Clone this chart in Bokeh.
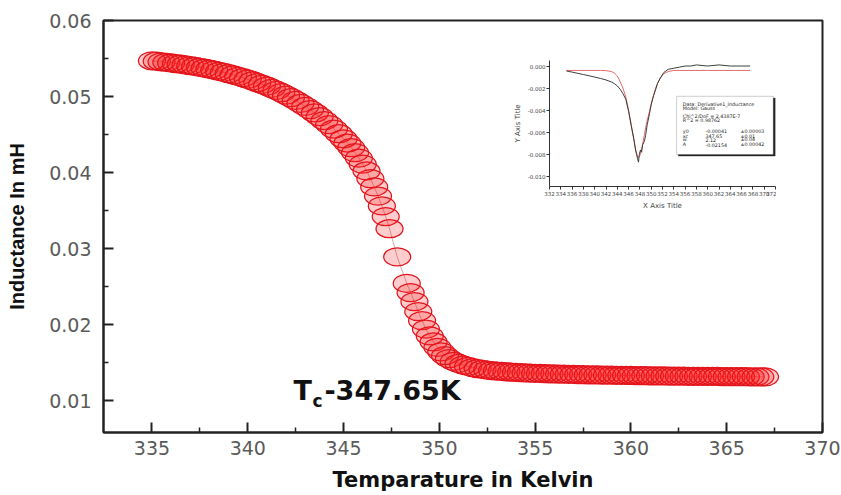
from bokeh.plotting import figure
from bokeh.models import Range1d, FixedTicker, PrintfTickFormatter, Label, BoxAnnotation
from bokeh.embed import file_html
from bokeh.resources import INLINE

# ---------------- main data ----------------
temperature_K = [
    335.00, 335.25, 335.50, 335.75, 336.00, 336.25, 336.50, 336.75, 337.00, 337.25,
    337.50, 337.75, 338.00, 338.25, 338.50, 338.75, 339.00, 339.25, 339.50, 339.75,
    340.00, 340.25, 340.50, 340.75, 341.00, 341.25, 341.50, 341.75, 342.00, 342.25,
    342.50, 342.75, 343.00, 343.25, 343.50, 343.75, 344.00, 344.25, 344.50, 344.75,
    345.00, 345.20, 345.40, 345.60, 345.80, 346.00, 346.20, 346.40, 346.60, 346.80,
    347.00, 347.20, 347.40, 347.80, 348.30, 348.50, 348.70, 348.90, 349.10, 349.30,
    349.50, 349.70, 349.90, 350.10, 350.30, 350.50, 350.75, 351.00, 351.25, 351.50,
    351.75, 352.00, 352.25, 352.50, 352.75, 353.00, 353.25, 353.50, 353.75, 354.00,
    354.25, 354.50, 354.75, 355.00, 355.25, 355.50, 355.75, 356.00, 356.25, 356.50,
    356.75, 357.00, 357.25, 357.50, 357.75, 358.00, 358.25, 358.50, 358.75, 359.00,
    359.25, 359.50, 359.75, 360.00, 360.25, 360.50, 360.75, 361.00, 361.25, 361.50,
    361.75, 362.00, 362.25, 362.50, 362.75, 363.00, 363.25, 363.50, 363.75, 364.00,
    364.25, 364.50, 364.75, 365.00, 365.25, 365.50, 365.75, 366.00, 366.25, 366.50,
    366.75, 367.00,
]
inductance_mH = [
    0.05470, 0.05464, 0.05457, 0.05450, 0.05442, 0.05434, 0.05425, 0.05416, 0.05406, 0.05395,
    0.05384, 0.05372, 0.05359, 0.05346, 0.05332, 0.05317, 0.05301, 0.05284, 0.05266, 0.05247,
    0.05227, 0.05206, 0.05184, 0.05160, 0.05135, 0.05108, 0.05080, 0.05050, 0.05018, 0.04984,
    0.04948, 0.04910, 0.04870, 0.04828, 0.04783, 0.04735, 0.04684, 0.04630, 0.04572, 0.04510,
    0.04444, 0.04388, 0.04328, 0.04262, 0.04190, 0.04110, 0.04020, 0.03920, 0.03810, 0.03690,
    0.03560, 0.03420, 0.03260, 0.02890, 0.02540, 0.02420, 0.02300, 0.02170, 0.02050, 0.01940,
    0.01850, 0.01770, 0.01700, 0.01640, 0.01590, 0.01550, 0.01515, 0.01488, 0.01466, 0.01448,
    0.01433, 0.01420, 0.01410, 0.01401, 0.01394, 0.01388, 0.01383, 0.01378, 0.01374, 0.01370,
    0.01367, 0.01364, 0.01361, 0.01358, 0.01356, 0.01354, 0.01352, 0.01350, 0.01348, 0.01346,
    0.01344, 0.01343, 0.01341, 0.01340, 0.01338, 0.01337, 0.01336, 0.01335, 0.01334, 0.01333,
    0.01332, 0.01331, 0.01330, 0.01329, 0.01328, 0.01327, 0.01326, 0.01325, 0.01324, 0.01324,
    0.01323, 0.01322, 0.01321, 0.01321, 0.01320, 0.01319, 0.01319, 0.01318, 0.01317, 0.01317,
    0.01316, 0.01316, 0.01315, 0.01315, 0.01314, 0.01314, 0.01313, 0.01313, 0.01312, 0.01312,
    0.01311, 0.01311,
]

x_major_ticks = [335, 340, 345, 350, 355, 360, 365, 370]
x_minor_ticks = [337.5, 342.5, 347.5, 352.5, 357.5, 362.5, 367.5]
y_major_ticks = [0.01, 0.02, 0.03, 0.04, 0.05, 0.06]
y_minor_ticks = [0.015, 0.025, 0.035, 0.045, 0.055]

x_title = "Temparature in Kelvin"
y_title = "Inductance In mH"
tc_main = "T"
tc_sub = "c"
tc_value = "-347.65K"

# ---------------- inset data (derivative + Gauss fit) ----------------
inset_temp_data = [
    335.0, 336.0, 337.0, 338.0, 339.0, 340.0, 341.0, 342.0, 343.0, 343.5,
    344.0, 344.5, 345.0, 345.5, 346.0, 346.5, 347.0, 347.2, 347.4, 347.6,
    347.75, 347.9, 348.1, 348.3, 348.5, 348.8, 349.0, 349.3, 349.7, 350.0,
    350.4, 350.8, 351.1, 351.6, 352.2, 353.0, 354.0, 355.0, 356.0, 357.0,
    358.0, 360.0, 362.0, 364.0, 366.0, 367.5,
]
inset_deriv = [
    -0.00045, -0.00055, -0.00066, -0.00077, -0.00088, -0.0010, -0.00112, -0.00126, -0.00145, -0.0016,
    -0.0018, -0.0021, -0.0025, -0.0030, -0.0041, -0.0055, -0.0068, -0.0075, -0.0080, -0.0084,
    -0.0087, -0.0080, -0.0076, -0.0078, -0.0071, -0.0068, -0.0063, -0.0053, -0.0043, -0.0035,
    -0.0027, -0.0021, -0.0016, -0.0011, -0.0006, -0.0003, -0.0002, -0.0001, 0.0, 0.0,
    0.0001, 0.0, 0.0001, 0.0, 0.0, 0.0,
]
inset_temp_fit = [
    335.0, 337.0, 339.0, 341.0, 342.0, 343.0, 343.5, 344.0, 344.5, 345.0,
    345.5, 346.0, 346.5, 347.0, 347.3, 347.7, 348.0, 348.4, 348.8, 349.2,
    349.7, 350.0, 350.4, 350.8, 351.1, 351.6, 352.2, 353.0, 354.0, 360.0,
    367.5,
]
inset_fit = [
    -0.0004, -0.0004, -0.0004, -0.0004, -0.00042, -0.0005, -0.00065, -0.0009, -0.0014, -0.0020,
    -0.0028, -0.0040, -0.0054, -0.0069, -0.0077, -0.0083, -0.0081, -0.0073, -0.0062, -0.0051,
    -0.0041, -0.0034, -0.0027, -0.0020, -0.0016, -0.0011, -0.0007, -0.0005, -0.0004, -0.0004,
    -0.0004,
]
inset_x_ticks = [332, 334, 336, 338, 340, 342, 344, 346, 348, 350, 352, 354,
                 356, 358, 360, 362, 364, 366, 368, 370, 372]
inset_y_ticks = [0.0, -0.002, -0.004, -0.006, -0.008, -0.010]
inset_x_title = "X Axis Title"
inset_y_title = "Y Axis Title"
legend_header = ["Data: Derivative1_Inductance", "Model: Gauss",
                 "Chi^2/DoF   = 2.4387E-7", "R^2   = 0.98762"]
legend_params = ["y0", "xc", "w", "A"]
legend_values = ["-0.00041", "347.65", "2.12", "-0.02154"]
legend_errors = ["\u00b10.00003", "\u00b10.01", "\u00b10.04", "\u00b10.00042"]

# ---------------- main figure ----------------
p = figure(width=841, height=495, x_range=Range1d(332.47, 370), y_range=Range1d(0.00579, 0.06),
           output_backend="svg", toolbar_location=None,
           min_border_left=103, min_border_right=19, min_border_top=20, min_border_bottom=63)
p.xgrid.visible = False
p.ygrid.visible = False
p.background_fill_color = "white"
p.border_fill_color = "white"
p.outline_line_color = "#222222"
p.outline_line_width = 2

p.line(temperature_K, inductance_mH, line_color="#a04848", line_width=0.8, line_alpha=0.6)
p.ellipse(temperature_K, inductance_mH, width=27, height=18,
          width_units="screen", height_units="screen",
          fill_color="#ff1a1a", fill_alpha=0.22, line_color="#e3141c", line_width=1.25)

p.xaxis.ticker = FixedTicker(ticks=x_major_ticks, minor_ticks=x_minor_ticks)
p.yaxis.ticker = FixedTicker(ticks=y_major_ticks, minor_ticks=y_minor_ticks)
p.xaxis.formatter = PrintfTickFormatter(format="%d")
p.yaxis.formatter = PrintfTickFormatter(format="%.2f")
for ax in (p.xaxis[0], p.yaxis[0]):
    ax.axis_line_width = 2
    ax.axis_line_color = "#222222"
    ax.major_tick_in = 10
    ax.major_tick_out = 0
    ax.minor_tick_in = 5
    ax.minor_tick_out = 0
    ax.major_tick_line_width = 2
    ax.major_tick_line_color = "#222222"
    ax.minor_tick_line_width = 1.5
    ax.minor_tick_line_color = "#222222"
    ax.major_label_text_font = "DejaVu Sans"
    ax.major_label_text_font_size = "19px"
    ax.major_label_text_color = "#5a5a5a"
    ax.axis_label_text_font_style = "bold"
    ax.axis_label_text_color = "#111111"
p.xaxis.major_label_standoff = 8
p.yaxis.major_label_standoff = 12
p.xaxis.axis_label = x_title
p.xaxis.axis_label_text_font = "DejaVu Sans"
p.xaxis.axis_label_text_font_size = "21px"
p.xaxis.axis_label_standoff = 10
p.yaxis.axis_label = y_title
p.yaxis.axis_label_text_font = "Liberation Sans"
p.yaxis.axis_label_text_font_size = "20px"
p.yaxis.axis_label_standoff = 18

p.add_layout(Label(x=342.39, y=0.01132, text=tc_main, text_font="DejaVu Sans",
                   text_font_style="bold", text_font_size="27px", text_baseline="alphabetic",
                   text_color="#111111"))
p.add_layout(Label(x=343.38, y=0.00987, text=tc_sub, text_font="DejaVu Sans",
                   text_font_style="bold", text_font_size="17px", text_baseline="alphabetic",
                   text_color="#111111"))
p.add_layout(Label(x=344.0, y=0.01132, text=tc_value, text_font="DejaVu Sans",
                   text_font_style="bold", text_font_size="27px", text_baseline="alphabetic",
                   text_color="#111111"))

# ---------------- inset figure (separate root, placed over the main one) ----------------
inset = figure(width=266, height=157, x_range=Range1d(332, 372), y_range=Range1d(-0.0109, 0.0005),
               output_backend="svg", toolbar_location=None,
               min_border_left=39, min_border_right=1, min_border_top=5, min_border_bottom=22)
inset.xgrid.visible = False
inset.ygrid.visible = False
inset.outline_line_color = None
inset.background_fill_color = "white"
inset.border_fill_color = "white"

inset.line(inset_temp_fit, inset_fit, line_color="#e05a5a", line_width=0.9)
inset.line(inset_temp_data, inset_deriv, line_color="#2a2a2a", line_width=0.9)

inset.xaxis.ticker = FixedTicker(ticks=inset_x_ticks)
inset.yaxis.ticker = FixedTicker(ticks=inset_y_ticks)
inset.xaxis.formatter = PrintfTickFormatter(format="%d")
inset.yaxis.formatter = PrintfTickFormatter(format="%.3f")
for ax in (inset.xaxis[0], inset.yaxis[0]):
    ax.axis_line_color = "#333333"
    ax.axis_line_width = 1
    ax.major_tick_in = 0
    ax.major_tick_out = 3
    ax.minor_tick_in = 0
    ax.minor_tick_out = 0
    ax.major_tick_line_color = "#333333"
    ax.major_label_text_font = "DejaVu Sans"
    ax.major_label_text_font_size = "5.5px"
    ax.major_label_text_color = "#444444"
    ax.major_label_standoff = 1
    ax.axis_label_text_font = "DejaVu Sans"
    ax.axis_label_text_font_style = "normal"
    ax.axis_label_text_font_size = "7px"
    ax.axis_label_text_color = "#444444"
    ax.axis_label_standoff = 3
inset.xaxis.axis_label = inset_x_title
inset.yaxis.axis_label = inset_y_title

inset.add_layout(BoxAnnotation(left=354.8, right=372.0, top=-0.00290, bottom=-0.00815,
                               fill_color="#222222", fill_alpha=1, line_color="#222222"))
inset.add_layout(BoxAnnotation(left=354.5, right=371.6, top=-0.00274, bottom=-0.00800,
                               fill_color="white", fill_alpha=1, line_color="#333333",
                               line_width=0.8))
header_y = [-0.00345, -0.0038, -0.00459, -0.00494]
for txt, yy in zip(legend_header, header_y):
    inset.add_layout(Label(x=355.6, y=yy, text=txt, text_font="DejaVu Sans",
                           text_font_size="4.8px", text_baseline="middle", text_color="#222222"))
row_y = [-0.0059, -0.00634, -0.00669, -0.00713]
for name, val, err, yy in zip(legend_params, legend_values, legend_errors, row_y):
    inset.add_layout(Label(x=355.6, y=yy, text=name, text_font="DejaVu Sans",
                           text_font_size="4.8px", text_baseline="middle", text_color="#222222"))
    inset.add_layout(Label(x=359.6, y=yy, text=val, text_font="DejaVu Sans",
                           text_font_size="4.8px", text_baseline="middle", text_color="#222222"))
    inset.add_layout(Label(x=365.8, y=yy, text=err, text_font="DejaVu Sans",
                           text_font_size="4.8px", text_baseline="middle", text_color="#222222"))

inset.styles = {"position": "absolute", "left": "510px", "top": "55px", "z-index": "10"}

open("out.html", "w").write(file_html([p, inset], INLINE))
